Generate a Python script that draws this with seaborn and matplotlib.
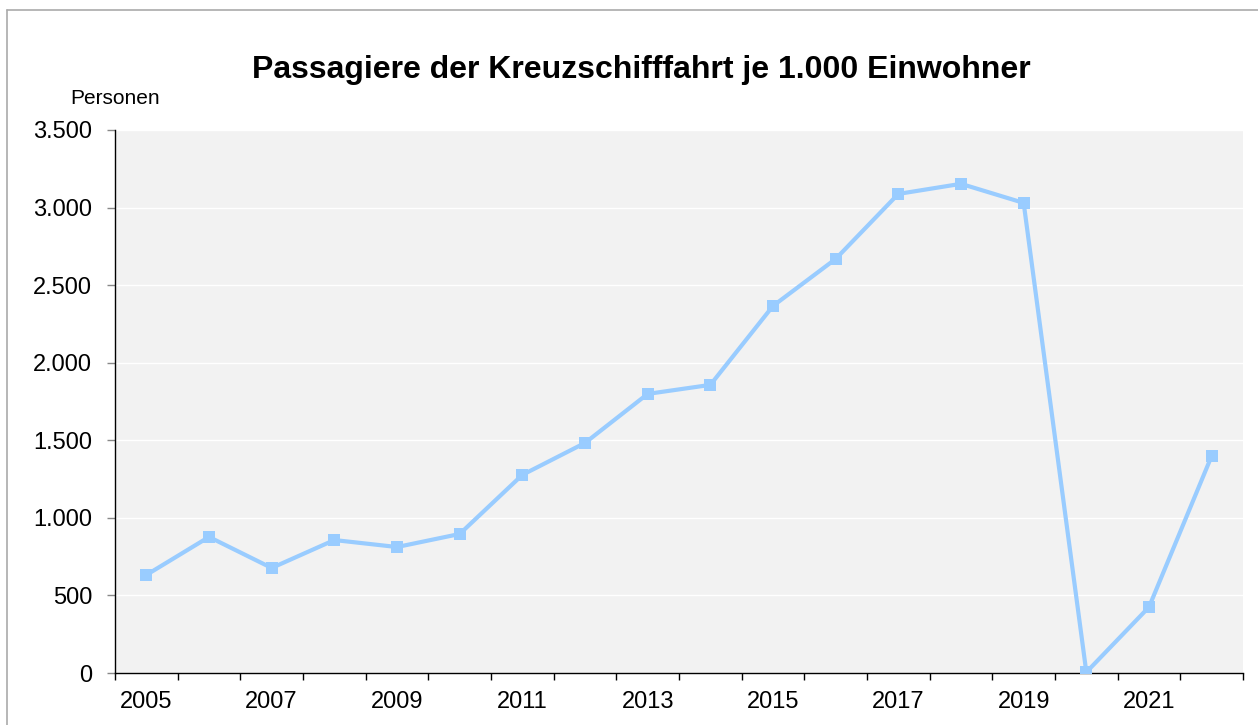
import matplotlib
matplotlib.use("Agg")
import matplotlib.pyplot as plt
import seaborn as sns
import pandas as pd
from matplotlib.ticker import FuncFormatter
from matplotlib.lines import Line2D

# data
years = list(range(2005, 2023))
passagiere = [632, 877, 677, 857, 812, 896, 1277, 1483, 1799, 1857,
              2366, 2669, 3088, 3153, 3030, 5, 425, 1399]

df = pd.DataFrame({"idx": range(len(years)), "jahr": years, "wert": passagiere})

sns.set_style("white")
plt.rcParams["font.family"] = ["Liberation Sans", "DejaVu Sans"]
plt.rcParams["text.color"] = "black"
plt.rcParams["xtick.color"] = "black"
plt.rcParams["ytick.color"] = "black"

fig = plt.figure(figsize=(12.58, 7.25), dpi=100)
ax = fig.add_axes([115 / 1258, 52 / 725, 1128 / 1258, 543 / 725])
ax.set_facecolor("#F2F2F2")

sns.lineplot(data=df, x="idx", y="wert", ax=ax, color="#99CCFF", lw=3,
             marker="s", markersize=8, markeredgewidth=0, zorder=3)

ax.set_xlim(-0.5, len(years) - 0.5)
ax.set_ylim(0, 3500)
ax.set_yticks(range(0, 3501, 500))
ax.yaxis.set_major_formatter(FuncFormatter(lambda v, p: f"{int(v):,}".replace(",", ".")))
ax.grid(axis="y", color="white", lw=1)
ax.set_axisbelow(True)

# labels every other year, tick marks between categories
ax.set_xticks(df["idx"][::2])
ax.set_xticklabels(df["jahr"][::2])
ax.set_xticks([i - 0.5 for i in range(len(years) + 1)], minor=True)
ax.tick_params(axis="x", which="major", bottom=True, length=0, pad=13, labelsize=17,
               labelcolor="black")
ax.tick_params(axis="x", which="minor", bottom=True, length=5, width=1, color="black")
ax.tick_params(axis="y", left=True, length=5.5, width=1, color="#888888", pad=11,
               labelsize=17, labelcolor="black")

ax.set_xlabel("")
ax.set_ylabel("")
for s in ["top", "right"]:
    ax.spines[s].set_visible(False)
for s in ["left", "bottom"]:
    ax.spines[s].set_color("black")
    ax.spines[s].set_linewidth(1)

fig.text(641 / 1258, 1 - 70 / 725, "Passagiere der Kreuzschifffahrt je 1.000 Einwohner",
         ha="center", va="center", fontsize=23, fontweight="bold", color="black")
fig.text(70 / 1258, 1 - 98 / 725, "Personen", ha="left", va="center", fontsize=15,
         color="black")

# outer frame lines
fig.add_artist(Line2D([7 / 1258, 7 / 1258], [0, 1 - 10 / 725], color="#AAAAAA", lw=1.2,
                      transform=fig.transFigure))
fig.add_artist(Line2D([7 / 1258, 1], [1 - 10 / 725, 1 - 10 / 725], color="#AAAAAA", lw=1.2,
                      transform=fig.transFigure))

fig.savefig("out.png", dpi=100)
